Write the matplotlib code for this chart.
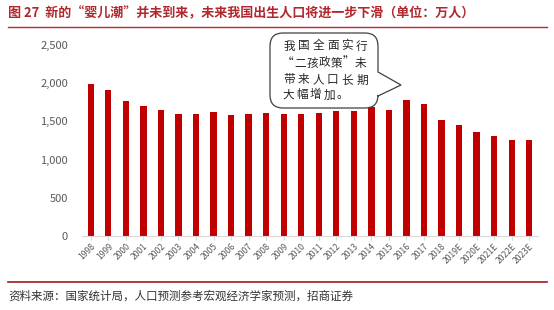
import matplotlib
matplotlib.use("Agg")
import matplotlib.pyplot as plt
from matplotlib.path import Path
from matplotlib.patches import PathPatch
import numpy as np

plt.rcParams['font.family'] = ['Noto Sans CJK SC', 'DejaVu Sans']

years = ["1998", "1999", "2000", "2001", "2002", "2003", "2004", "2005", "2006",
         "2007", "2008", "2009", "2010", "2011", "2012", "2013", "2014", "2015",
         "2016", "2017", "2018", "2019E", "2020E", "2021E", "2022E", "2023E"]
births = [1991, 1909, 1771, 1702, 1647, 1599, 1593, 1617, 1585,
          1595, 1608, 1591, 1592, 1604, 1635, 1640, 1687, 1655,
          1786, 1723, 1523, 1455, 1355, 1305, 1255, 1255]
yticks = [0, 500, 1000, 1500, 2000, 2500]

title = "图 27  新的“婴儿潮”并未到来，未来我国出生人口将进一步下滑（单位：万人）"
source = "资料来源：国家统计局，人口预测参考宏观经济学家预测，招商证券"
callout = ["我国全面实行", "“二孩政策”未", "带来人口长期", "大幅增加。"]

W, H = 554, 310
fig = plt.figure(figsize=(W / 100, H / 100), dpi=100)
ax = fig.add_axes([82 / W, 1 - 236 / H, (538 - 82) / W, (236 - 45) / H])

x = np.arange(len(years))
ax.bar(x, births, width=0.36, color='#C00000', zorder=2)
ax.set_xlim(-0.5, len(years) - 0.5)
ax.set_ylim(0, 2500)
ax.set_yticks(yticks)
ax.set_yticklabels([f"{v:,}" for v in yticks], fontsize=8, color='#595959')
ax.set_xticks(x)
ax.set_xticklabels(years, rotation=45, ha='right', rotation_mode='anchor',
                   fontsize=6.2, color='#595959')
for s in ['top', 'right', 'left']:
    ax.spines[s].set_visible(False)
ax.spines['bottom'].set_color('#D9D9D9')
ax.tick_params(axis='y', length=0, pad=10)
ax.tick_params(axis='x', length=3, color='#D9D9D9', pad=1)

# title and rules
fig.text(8 / W, 1 - 13 / H, title, fontsize=9.4, fontweight='bold',
         color='#B0282E', va='center', ha='left')
fig.add_artist(plt.Line2D([8 / W, 547 / W], [1 - 27 / H, 1 - 27 / H],
                          color='#C0282E', lw=1.0))
fig.add_artist(plt.Line2D([8 / W, 547 / W], [1 - 282 / H, 1 - 282 / H],
                          color='#9E1B1F', lw=1.2))
fig.text(8 / W, 1 - 296 / H, source, fontsize=8.3, color='#333333',
         va='center', ha='left')

# callout bubble (pixel coords -> figure fraction)
def P(px, py):
    return (px / W, 1 - py / H)

l, r, t, b, rad = 270, 378, 33, 108, 13
verts = [P(l + rad, t), P(r - rad, t), P(r, t), P(r, t + rad),
         P(r, 72), P(401, 85), P(r, 96),
         P(r, b - rad), P(r, b), P(r - rad, b),
         P(l + rad, b), P(l, b), P(l, b - rad),
         P(l, t + rad), P(l, t), P(l + rad, t), P(l + rad, t)]
codes = [Path.MOVETO, Path.LINETO, Path.CURVE3, Path.CURVE3,
         Path.LINETO, Path.LINETO, Path.LINETO,
         Path.LINETO, Path.CURVE3, Path.CURVE3,
         Path.LINETO, Path.CURVE3, Path.CURVE3,
         Path.LINETO, Path.CURVE3, Path.CURVE3, Path.CLOSEPOLY]
patch = PathPatch(Path(verts, codes), facecolor='white', edgecolor='#404040',
                  lw=0.9, transform=fig.transFigure, zorder=5)
fig.add_artist(patch)
ys = [46, 63, 80, 95]
x0s = [289, 288, 289, 288]
steps = [14.6, 12.0, 14.6, 13.7]
for line, yy, x0, st in zip(callout, ys, x0s, steps):
    for i, ch in enumerate(line):
        cx = x0 + i * st
        fig.text(cx / W, 1 - yy / H, ch, fontsize=8.4, color='#262626',
                 va='center', ha='center', zorder=6)

fig.savefig("out.png", dpi=100)
